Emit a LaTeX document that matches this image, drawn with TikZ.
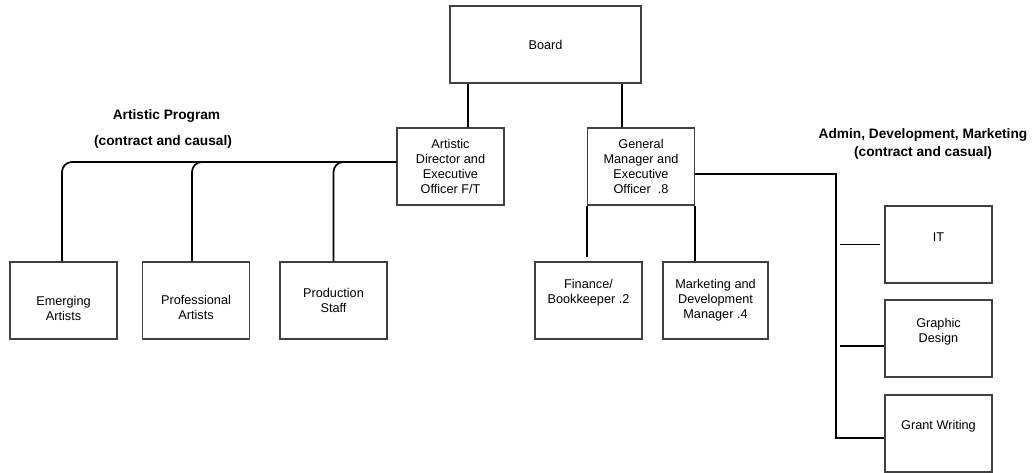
\documentclass[tikz,border=0pt]{standalone}
\usepackage{fontspec}
\setmainfont{Liberation Sans}
\begin{document}
\begin{tikzpicture}[x=1pt, y=-1pt,
  box/.style={draw=black!75, line width=1.3pt, minimum width=107pt, minimum height=77pt,
    inner sep=0pt, align=center, font=\fontsize{12.7}{15}\selectfont},
  txt/.style={align=center, font=\fontsize{12.7}{15}\selectfont},
  title/.style={align=center, font=\fontsize{13.7}{17.5}\selectfont\bfseries},
  link/.style={line width=1.7pt}]

% Page frame
\useasboundingbox (0,0) rectangle (1032,473);

% Top
\node[box, minimum width=191pt] (board) at (545.5,44.5) {Board};
\node[box] (ad) at (450.5,166.5) {Artistic\\Director and\\Executive\\Officer F/T};
\node[box] (gm) at (641,166.5) {General\\Manager and\\Executive\\Officer\ \ .8};

% Artistic program row
\node[box, label={[txt, yshift=-8pt]center:Emerging\\Artists}] (emerging) at (63.5,300.5) {};
\node[box, label={[txt, yshift=-7pt]center:Professional\\Artists}] (professional) at (196,300.5) {};
\node[box] (production) at (333.5,300.5) {Production\\Staff};

% Staff under general manager
\node[box, label={[txt, yshift=8pt]center:Finance/\\Bookkeeper .2}] (finance) at (588.5,300.5) {};
\node[box, minimum width=105pt] (marketing) at (715.5,300.5) {Marketing and\\Development\\Manager .4};

% Admin column
\node[box, label={[txt, yshift=7pt]center:IT}] (it) at (938.5,244.5) {};
\node[box, label={[txt, yshift=7pt]center:Graphic\\Design}] (graphic) at (938.5,338.5) {};
\node[box, label={[txt, yshift=7pt]center:Grant Writing}] (grant) at (938.5,433.5) {};

% Group titles
\node[title] (progtitle) at (166.5,116) {Artistic Program};
\node[title] (progsub) at (163,142) {(contract and causal)};
\node[title] (admintitle) at (923,144) {Admin, Development, Marketing\\(contract and casual)};

% Board to officers
\draw[link] ([xshift=17.5pt]ad.north) -- ([xshift=17.5pt]ad.north |- board.south);
\draw[link] ([xshift=-19pt]gm.north) -- ([xshift=-19pt]gm.north |- board.south);

% Artistic program branch
\foreach \t/\dx in {emerging/-1.5, professional/-4, production/0}
  \draw[link, rounded corners=10pt] ([yshift=4.5pt]ad.west) -| ([xshift=\dx pt]\t.north);

% General manager to finance and marketing
\draw[link, shorten >=4pt] (gm.south west) -- (gm.south west |- finance.north);
\draw[link] (gm.south east) -- (gm.south east |- marketing.north);

% Admin branch
\coordinate (spine) at (836,438);
\draw[link] ([yshift=-7.5pt]gm.east) -| (spine) -- ([yshift=-4.5pt]grant.west);
\draw[link] ([xshift=-44pt]it.west) -- ([xshift=-4pt]it.west);
\draw[link] ([xshift=-44pt, yshift=-7.5pt]graphic.west) -- ([yshift=-7.5pt]graphic.west);

\end{tikzpicture}
\end{document}
